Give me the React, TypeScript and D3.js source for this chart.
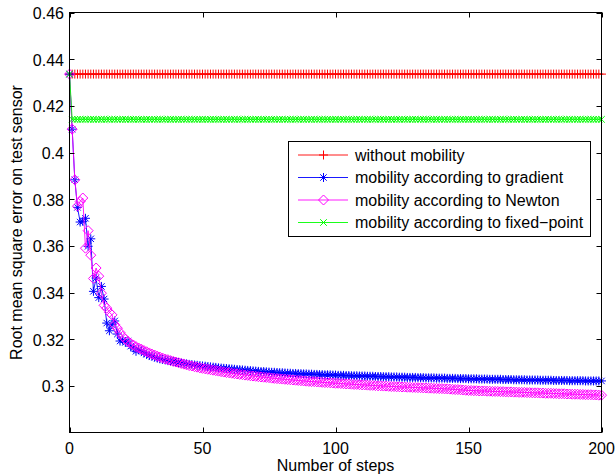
import React, { useEffect, useRef } from 'react';
import * as d3 from 'd3';

// values, one per step 0..200
const xTicks = [0, 50, 100, 150, 200];
const yTicks = [0.3, 0.32, 0.34, 0.36, 0.38, 0.4, 0.42, 0.44, 0.46];
const seriesNames = [
  'without mobility',
  'mobility according to gradient',
  'mobility according to Newton',
  'mobility according to fixed\u2212point',
];

const withoutMobility = [
  0.4336, 0.4336, 0.4336, 0.4336, 0.4336, 0.4336, 0.4336, 0.4336, 0.4336, 0.4336, 0.4336, 0.4336, 0.4336, 0.4336, 0.4336, 0.4336, 0.4336, 0.4336, 0.4336, 0.4336,
  0.4336, 0.4336, 0.4336, 0.4336, 0.4336, 0.4336, 0.4336, 0.4336, 0.4336, 0.4336, 0.4336, 0.4336, 0.4336, 0.4336, 0.4336, 0.4336, 0.4336, 0.4336, 0.4336, 0.4336,
  0.4336, 0.4336, 0.4336, 0.4336, 0.4336, 0.4336, 0.4336, 0.4336, 0.4336, 0.4336, 0.4336, 0.4336, 0.4336, 0.4336, 0.4336, 0.4336, 0.4336, 0.4336, 0.4336, 0.4336,
  0.4336, 0.4336, 0.4336, 0.4336, 0.4336, 0.4336, 0.4336, 0.4336, 0.4336, 0.4336, 0.4336, 0.4336, 0.4336, 0.4336, 0.4336, 0.4336, 0.4336, 0.4336, 0.4336, 0.4336,
  0.4336, 0.4336, 0.4336, 0.4336, 0.4336, 0.4336, 0.4336, 0.4336, 0.4336, 0.4336, 0.4336, 0.4336, 0.4336, 0.4336, 0.4336, 0.4336, 0.4336, 0.4336, 0.4336, 0.4336,
  0.4336, 0.4336, 0.4336, 0.4336, 0.4336, 0.4336, 0.4336, 0.4336, 0.4336, 0.4336, 0.4336, 0.4336, 0.4336, 0.4336, 0.4336, 0.4336, 0.4336, 0.4336, 0.4336, 0.4336,
  0.4336, 0.4336, 0.4336, 0.4336, 0.4336, 0.4336, 0.4336, 0.4336, 0.4336, 0.4336, 0.4336, 0.4336, 0.4336, 0.4336, 0.4336, 0.4336, 0.4336, 0.4336, 0.4336, 0.4336,
  0.4336, 0.4336, 0.4336, 0.4336, 0.4336, 0.4336, 0.4336, 0.4336, 0.4336, 0.4336, 0.4336, 0.4336, 0.4336, 0.4336, 0.4336, 0.4336, 0.4336, 0.4336, 0.4336, 0.4336,
  0.4336, 0.4336, 0.4336, 0.4336, 0.4336, 0.4336, 0.4336, 0.4336, 0.4336, 0.4336, 0.4336, 0.4336, 0.4336, 0.4336, 0.4336, 0.4336, 0.4336, 0.4336, 0.4336, 0.4336,
  0.4336, 0.4336, 0.4336, 0.4336, 0.4336, 0.4336, 0.4336, 0.4336, 0.4336, 0.4336, 0.4336, 0.4336, 0.4336, 0.4336, 0.4336, 0.4336, 0.4336, 0.4336, 0.4336, 0.4336,
  0.4336,
];

const gradient = [
  0.4336, 0.4100, 0.3883, 0.3765, 0.3702, 0.3705, 0.3718, 0.3598, 0.3630, 0.3405,
  0.3462, 0.3378, 0.3426, 0.3372, 0.3269, 0.3236, 0.3262, 0.3278, 0.3222, 0.3192,
  0.3196, 0.3186, 0.3192, 0.3170, 0.3162, 0.3148, 0.3155, 0.3150, 0.3141, 0.3136,
  0.3130, 0.3127, 0.3123, 0.3119, 0.3116, 0.3113, 0.3111, 0.3108, 0.3106, 0.3104,
  0.3102, 0.3100, 0.3098, 0.3096, 0.3094, 0.3092, 0.3091, 0.3089, 0.3088, 0.3086,
  0.3085, 0.3084, 0.3082, 0.3081, 0.3080, 0.3079, 0.3077, 0.3076, 0.3075, 0.3074,
  0.3073, 0.3072, 0.3071, 0.3070, 0.3069, 0.3068, 0.3067, 0.3066, 0.3065, 0.3064,
  0.3063, 0.3062, 0.3061, 0.3061, 0.3060, 0.3059, 0.3058, 0.3058, 0.3057, 0.3056,
  0.3056, 0.3055, 0.3054, 0.3054, 0.3053, 0.3053, 0.3052, 0.3052, 0.3051, 0.3051,
  0.3050, 0.3050, 0.3049, 0.3049, 0.3048, 0.3048, 0.3047, 0.3047, 0.3047, 0.3046,
  0.3046, 0.3045, 0.3045, 0.3045, 0.3044, 0.3044, 0.3043, 0.3043, 0.3043, 0.3042,
  0.3042, 0.3042, 0.3041, 0.3041, 0.3041, 0.3040, 0.3040, 0.3040, 0.3039, 0.3039,
  0.3039, 0.3038, 0.3038, 0.3038, 0.3037, 0.3037, 0.3037, 0.3036, 0.3036, 0.3036,
  0.3036, 0.3035, 0.3035, 0.3035, 0.3034, 0.3034, 0.3034, 0.3034, 0.3033, 0.3033,
  0.3033, 0.3033, 0.3032, 0.3032, 0.3032, 0.3032, 0.3031, 0.3031, 0.3031, 0.3031,
  0.3030, 0.3030, 0.3030, 0.3030, 0.3029, 0.3029, 0.3029, 0.3029, 0.3028, 0.3028,
  0.3028, 0.3028, 0.3028, 0.3027, 0.3027, 0.3027, 0.3027, 0.3026, 0.3026, 0.3026,
  0.3026, 0.3026, 0.3025, 0.3025, 0.3025, 0.3025, 0.3025, 0.3024, 0.3024, 0.3024,
  0.3024, 0.3024, 0.3023, 0.3023, 0.3023, 0.3023, 0.3023, 0.3023, 0.3022, 0.3022,
  0.3022, 0.3022, 0.3022, 0.3022, 0.3021, 0.3021, 0.3021, 0.3021, 0.3021, 0.3021,
  0.3021,
];

const newton = [
  0.4336, 0.4100, 0.3883, 0.3770, 0.3790, 0.3805, 0.3590, 0.3665, 0.3560, 0.3460,
  0.3505, 0.3470, 0.3397, 0.3345, 0.3333, 0.3315, 0.3304, 0.3262, 0.3247, 0.3228,
  0.3212, 0.3200, 0.3190, 0.3182, 0.3175, 0.3168, 0.3162, 0.3157, 0.3151, 0.3146,
  0.3141, 0.3136, 0.3132, 0.3127, 0.3123, 0.3119, 0.3115, 0.3112, 0.3108, 0.3105,
  0.3102, 0.3099, 0.3096, 0.3093, 0.3090, 0.3087, 0.3085, 0.3082, 0.3080, 0.3077,
  0.3075, 0.3073, 0.3071, 0.3069, 0.3067, 0.3065, 0.3063, 0.3061, 0.3059, 0.3057,
  0.3056, 0.3054, 0.3052, 0.3051, 0.3049, 0.3048, 0.3046, 0.3045, 0.3043, 0.3042,
  0.3041, 0.3039, 0.3038, 0.3037, 0.3036, 0.3035, 0.3033, 0.3032, 0.3031, 0.3030,
  0.3029, 0.3028, 0.3027, 0.3026, 0.3025, 0.3024, 0.3023, 0.3022, 0.3021, 0.3020,
  0.3019, 0.3018, 0.3018, 0.3017, 0.3016, 0.3015, 0.3014, 0.3014, 0.3013, 0.3012,
  0.3011, 0.3011, 0.3010, 0.3009, 0.3008, 0.3008, 0.3007, 0.3006, 0.3006, 0.3005,
  0.3004, 0.3004, 0.3003, 0.3002, 0.3002, 0.3001, 0.3000, 0.3000, 0.2999, 0.2999,
  0.2998, 0.2997, 0.2997, 0.2996, 0.2996, 0.2995, 0.2995, 0.2994, 0.2994, 0.2993,
  0.2993, 0.2992, 0.2992, 0.2991, 0.2991, 0.2990, 0.2990, 0.2989, 0.2989, 0.2988,
  0.2988, 0.2987, 0.2987, 0.2986, 0.2985, 0.2984, 0.2984, 0.2983, 0.2982, 0.2981,
  0.2980, 0.2980, 0.2979, 0.2979, 0.2978, 0.2978, 0.2978, 0.2977, 0.2977, 0.2976,
  0.2976, 0.2976, 0.2975, 0.2975, 0.2974, 0.2974, 0.2974, 0.2973, 0.2973, 0.2972,
  0.2972, 0.2972, 0.2971, 0.2971, 0.2970, 0.2970, 0.2970, 0.2969, 0.2969, 0.2968,
  0.2968, 0.2968, 0.2967, 0.2967, 0.2966, 0.2966, 0.2966, 0.2965, 0.2965, 0.2964,
  0.2964, 0.2964, 0.2963, 0.2963, 0.2962, 0.2962, 0.2962, 0.2961, 0.2961, 0.2960,
  0.2960,
];

const fixedPoint = [
  0.4336, 0.4142, 0.4142, 0.4142, 0.4142, 0.4142, 0.4142, 0.4142, 0.4142, 0.4142, 0.4142, 0.4142, 0.4142, 0.4142, 0.4142, 0.4142, 0.4142, 0.4142, 0.4142, 0.4142,
  0.4142, 0.4142, 0.4142, 0.4142, 0.4142, 0.4142, 0.4142, 0.4142, 0.4142, 0.4142, 0.4142, 0.4142, 0.4142, 0.4142, 0.4142, 0.4142, 0.4142, 0.4142, 0.4142, 0.4142,
  0.4142, 0.4142, 0.4142, 0.4142, 0.4142, 0.4142, 0.4142, 0.4142, 0.4142, 0.4142, 0.4142, 0.4142, 0.4142, 0.4142, 0.4142, 0.4142, 0.4142, 0.4142, 0.4142, 0.4142,
  0.4142, 0.4142, 0.4142, 0.4142, 0.4142, 0.4142, 0.4142, 0.4142, 0.4142, 0.4142, 0.4142, 0.4142, 0.4142, 0.4142, 0.4142, 0.4142, 0.4142, 0.4142, 0.4142, 0.4142,
  0.4142, 0.4142, 0.4142, 0.4142, 0.4142, 0.4142, 0.4142, 0.4142, 0.4142, 0.4142, 0.4142, 0.4142, 0.4142, 0.4142, 0.4142, 0.4142, 0.4142, 0.4142, 0.4142, 0.4142,
  0.4142, 0.4142, 0.4142, 0.4142, 0.4142, 0.4142, 0.4142, 0.4142, 0.4142, 0.4142, 0.4142, 0.4142, 0.4142, 0.4142, 0.4142, 0.4142, 0.4142, 0.4142, 0.4142, 0.4142,
  0.4142, 0.4142, 0.4142, 0.4142, 0.4142, 0.4142, 0.4142, 0.4142, 0.4142, 0.4142, 0.4142, 0.4142, 0.4142, 0.4142, 0.4142, 0.4142, 0.4142, 0.4142, 0.4142, 0.4142,
  0.4142, 0.4142, 0.4142, 0.4142, 0.4142, 0.4142, 0.4142, 0.4142, 0.4142, 0.4142, 0.4142, 0.4142, 0.4142, 0.4142, 0.4142, 0.4142, 0.4142, 0.4142, 0.4142, 0.4142,
  0.4142, 0.4142, 0.4142, 0.4142, 0.4142, 0.4142, 0.4142, 0.4142, 0.4142, 0.4142, 0.4142, 0.4142, 0.4142, 0.4142, 0.4142, 0.4142, 0.4142, 0.4142, 0.4142, 0.4142,
  0.4142, 0.4142, 0.4142, 0.4142, 0.4142, 0.4142, 0.4142, 0.4142, 0.4142, 0.4142, 0.4142, 0.4142, 0.4142, 0.4142, 0.4142, 0.4142, 0.4142, 0.4142, 0.4142, 0.4142,
  0.4142,
];

const colors = ['#ff0000', '#0000ff', '#ff00ff', '#00ff00'];

// marker shapes, matlab style: + * diamond x
const markers = [
  'M-4.5,0H4.5M0,-4.5V4.5',
  'M-4.5,0H4.5M0,-4.5V4.5M-3.2,-3.2L3.2,3.2M-3.2,3.2L3.2,-3.2',
  'M0,-5L5,0L0,5L-5,0Z',
  'M-3.3,-3.3L3.3,3.3M-3.3,3.3L3.3,-3.3',
];

const FONT = '"Liberation Sans", Arial, Helvetica, sans-serif';

export default function App() {
  const ref = useRef<SVGSVGElement>(null);

  useEffect(() => {
    document.body.style.margin = '0';
    const svg = d3.select(ref.current);
    svg.selectAll('*').remove();

    const width = 616;
    const height = 474;
    const left = 69.5, right = 601.5, top = 12.5, bottom = 432.5;

    const x = d3.scaleLinear().domain([0, 200]).range([left, right]);
    const y = d3.scaleLinear().domain([0.28, 0.46]).range([bottom, top]);

    svg.append('rect').attr('width', width).attr('height', height).attr('fill', 'white');

    const allSeries = [withoutMobility, gradient, newton, fixedPoint];

    const plot = svg.append('g');
    const line = d3.line<number>().x((d, i) => x(i)).y(d => y(d));

    allSeries.forEach((vals, s) => {
      plot.append('path')
        .attr('d', line(vals))
        .attr('fill', 'none')
        .attr('stroke', colors[s])
        .attr('stroke-width', 0.9);
      plot.selectAll('.m' + s)
        .data(vals)
        .enter()
        .append('path')
        .attr('class', 'm' + s)
        .attr('d', markers[s])
        .attr('transform', (d, i) => `translate(${x(i)},${y(d)})`)
        .attr('fill', 'none')
        .attr('stroke', colors[s])
        .attr('stroke-width', 1);
    });

    // frame
    svg.append('rect')
      .attr('x', left).attr('y', top)
      .attr('width', right - left).attr('height', bottom - top)
      .attr('fill', 'none').attr('stroke', 'black').attr('stroke-width', 1);

    const tl = 5;
    const ax = svg.append('g').attr('stroke', 'black').attr('stroke-width', 1);
    xTicks.forEach(t => {
      const px = Math.round(x(t)) + 0.5;
      ax.append('line').attr('x1', px).attr('x2', px).attr('y1', bottom).attr('y2', bottom - tl);
      ax.append('line').attr('x1', px).attr('x2', px).attr('y1', top).attr('y2', top + tl);
    });
    yTicks.forEach(t => {
      const py = Math.round(y(t)) + 0.5;
      ax.append('line').attr('x1', left).attr('x2', left + tl).attr('y1', py).attr('y2', py);
      ax.append('line').attr('x1', right).attr('x2', right - tl).attr('y1', py).attr('y2', py);
    });

    const fmt = d3.format('~g');
    const labels = svg.append('g').attr('font-family', FONT).attr('font-size', 16).attr('fill', 'black');
    xTicks.forEach(t => {
      labels.append('text').attr('x', x(t)).attr('y', 453.5).attr('text-anchor', 'middle').text(fmt(t));
    });
    yTicks.forEach(t => {
      labels.append('text').attr('x', 64).attr('y', y(t) + 6.5).attr('text-anchor', 'end').text(fmt(t));
    });
    labels.append('text').attr('x', (left + right) / 2).attr('y', 471).attr('text-anchor', 'middle').text('Number of steps');
    labels.append('text')
      .attr('transform', `translate(22,${(top + bottom) / 2}) rotate(-90)`)
      .attr('text-anchor', 'middle')
      .text('Root mean square error on test sensor');

    // legend
    const lg = svg.append('g');
    lg.append('rect')
      .attr('x', 288.5).attr('y', 141.5).attr('width', 302).attr('height', 95)
      .attr('fill', 'white').attr('stroke', 'black').attr('stroke-width', 1);
    seriesNames.forEach((name, s) => {
      const ry = 155 + s * 22.5;
      lg.append('line').attr('x1', 298).attr('x2', 348).attr('y1', ry).attr('y2', ry)
        .attr('stroke', colors[s]).attr('stroke-width', 0.9);
      lg.append('path').attr('d', markers[s]).attr('transform', `translate(323.5,${ry})`)
        .attr('fill', 'none').attr('stroke', colors[s]).attr('stroke-width', 1);
      lg.append('text').attr('x', 355).attr('y', ry + 5.5)
        .attr('font-family', FONT).attr('font-size', 16).attr('fill', 'black').text(name);
    });
  }, []);

  return <svg ref={ref} width={616} height={474} style={{ display: 'block' }} />;
}
